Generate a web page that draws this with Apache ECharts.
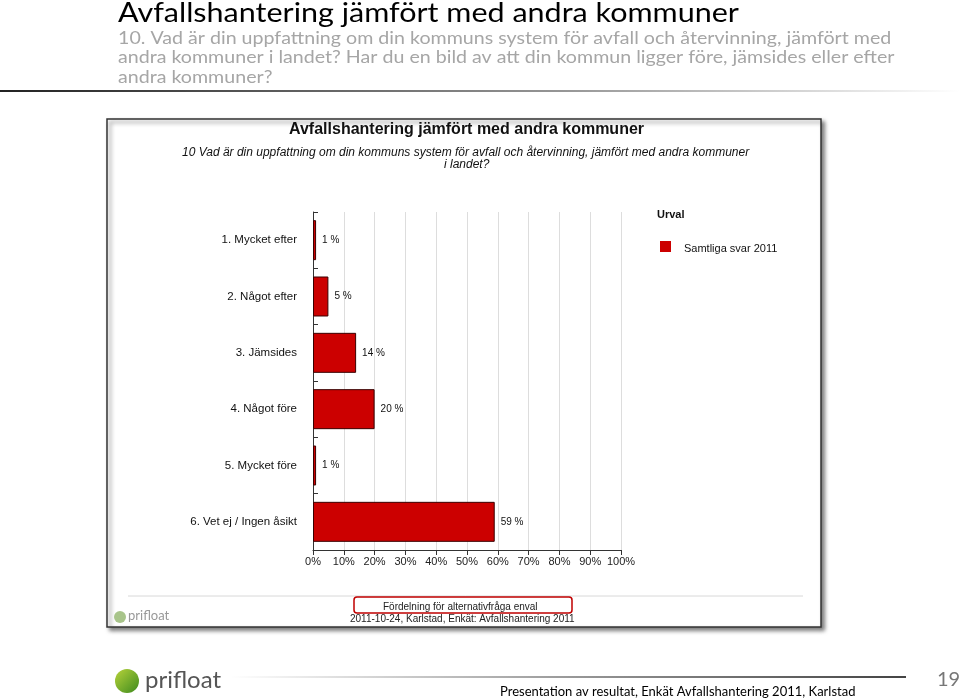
<!DOCTYPE html>
<html><head><meta charset="utf-8">
<script src="https://cdn.jsdelivr.net/npm/echarts@6/dist/echarts.min.js"></script>
<style>html,body{margin:0;padding:0;background:#fff}#c{width:960px;height:700px}</style>
</head><body><div id="c"></div>
<script>
const categories = ['1. Mycket efter', '2. Något efter', '3. Jämsides', '4. Något före', '5. Mycket före', '6. Vet ej / Ingen åsikt'];
const values = [1, 5, 14, 20, 1, 59];
const seriesName = 'Samtliga svar 2011';
const slideTitle = 'Avfallshantering jämfört med andra kommuner';
const slideSub = ['10. Vad är din uppfattning om din kommuns system för avfall och återvinning, jämfört med',
  'andra kommuner i landet? Har du en bild av att din kommun ligger före, jämsides eller efter',
  'andra kommuner?'];
const chartTitle = 'Avfallshantering jämfört med andra kommuner';
const chartSub = ['10 Vad är din uppfattning om din kommuns system för avfall och återvinning, jämfört med andra kommuner', 'i landet?'];
const footer = 'Presentation av resultat, Enkät Avfallshantering 2011, Karlstad';

const chart = echarts.init(document.getElementById('c'));
const AR = 'Liberation Sans, Arial, sans-serif';
const SL = 'Lato, Open Sans, sans-serif';
chart.setOption({
  animation: false,
  graphic: [
    // slide header
    {type:'text', x:118, y:0, scaleX:1.13, style:{text:slideTitle, font:'27px '+SL, fill:'#000'}},
    {type:'text', x:118, y:28, scaleX:1.09, style:{text:slideSub.join('\n'), font:'18px '+SL, fill:'#a6a6a6', lineHeight:19.5}},
    {type:'rect', shape:{x:0,y:90,width:960,height:2}, style:{fill:new echarts.graphic.LinearGradient(0,0,1,0,[{offset:0,color:'#222'},{offset:0.6,color:'#999'},{offset:1,color:'#fff'}])}},
    // chart box
    {type:'rect', shape:{x:107,y:119,width:714,height:508}, style:{fill:'#fff', stroke:'#333', lineWidth:1.5, shadowBlur:4, shadowOffsetX:3, shadowOffsetY:3, shadowColor:'rgba(0,0,0,0.5)'}, z:-10},
    {type:'text', left:289, top:122, style:{text:chartTitle, font:'bold 16px '+AR, fill:'#111'}},
    {type:'text', left:182, top:147, style:{text:chartSub[0], font:'italic 12px '+AR, fill:'#111'}},
    {type:'text', left:444, top:159, style:{text:chartSub[1], font:'italic 12px '+AR, fill:'#111'}},
    // legend
    {type:'text', left:657, top:209, style:{text:'Urval', font:'bold 11px '+AR, fill:'#111'}},
    {type:'rect', shape:{x:660,y:241,width:11,height:11}, style:{fill:'#cc0000'}},
    {type:'text', left:684, top:243, style:{text:seriesName, font:'11px '+AR, fill:'#111'}},
    // bottom of chart box
    {type:'line', shape:{x1:128,y1:596,x2:803,y2:596}, style:{stroke:'#d8d8d8', lineWidth:1}},
    {type:'rect', shape:{x:354,y:597,width:218,height:16,r:3}, style:{fill:'none', stroke:'#c00000', lineWidth:1.5}},
    {type:'text', left:383, top:602, style:{text:'Fördelning för alternativfråga enval', font:'10px '+AR, fill:'#222'}},
    {type:'text', left:350, top:614, style:{text:'2011-10-24, Karlstad, Enkät: Avfallshantering 2011', font:'10px '+AR, fill:'#222'}},
    {type:'circle', shape:{cx:120,cy:617,r:6}, style:{fill:'#a8c48a'}},
    {type:'text', left:128, top:609, style:{text:'prifloat', font:'13px '+SL, fill:'#999'}},
    // slide footer
    {type:'circle', shape:{cx:127,cy:681,r:12}, style:{fill:new echarts.graphic.LinearGradient(0,0,1,1,[{offset:0,color:'#b7d33a'},{offset:1,color:'#3d8a1e'}])}},
    {type:'text', left:145, top:668, style:{text:'prifloat', font:'24px '+SL, fill:'#555'}},
    {type:'rect', shape:{x:230,y:676,width:676,height:2}, style:{fill:new echarts.graphic.LinearGradient(0,0,1,0,[{offset:0,color:'#fff'},{offset:0.5,color:'#999'},{offset:1,color:'#444'}])}},
    {type:'text', left:500, top:685, style:{text:footer, font:'13px '+SL, fill:'#000'}},
    {type:'text', left:937, top:670, style:{text:'19', font:'20px '+SL, fill:'#777'}}
  ],
  grid: {left:313, top:212, width:308, height:338, containLabel:false},
  xAxis: {type:'value', min:0, max:100, interval:10,
    axisLine:{show:true, lineStyle:{color:'#333'}},
    axisTick:{show:true, length:5, lineStyle:{color:'#333'}},
    axisLabel:{formatter:'{value}%', color:'#222', fontFamily:AR, fontSize:11, margin:6},
    splitLine:{show:true, lineStyle:{color:'#ddd'}}},
  yAxis: {type:'category', data:categories, inverse:true,
    axisLine:{show:true, lineStyle:{color:'#333'}},
    axisTick:{show:true, inside:true, length:5, lineStyle:{color:'#333'}},
    axisLabel:{color:'#111', fontFamily:AR, fontSize:11.5, margin:16}},
  series: [{type:'bar', name:seriesName, data:values, barCategoryGap:'29%',
    itemStyle:{color:'#cc0000', borderColor:'#3a0000', borderWidth:1},
    label:{show:true, position:'right', distance:6, formatter:'{c} %', color:'#111', fontFamily:AR, fontSize:10}}]
});
</script></body></html>
